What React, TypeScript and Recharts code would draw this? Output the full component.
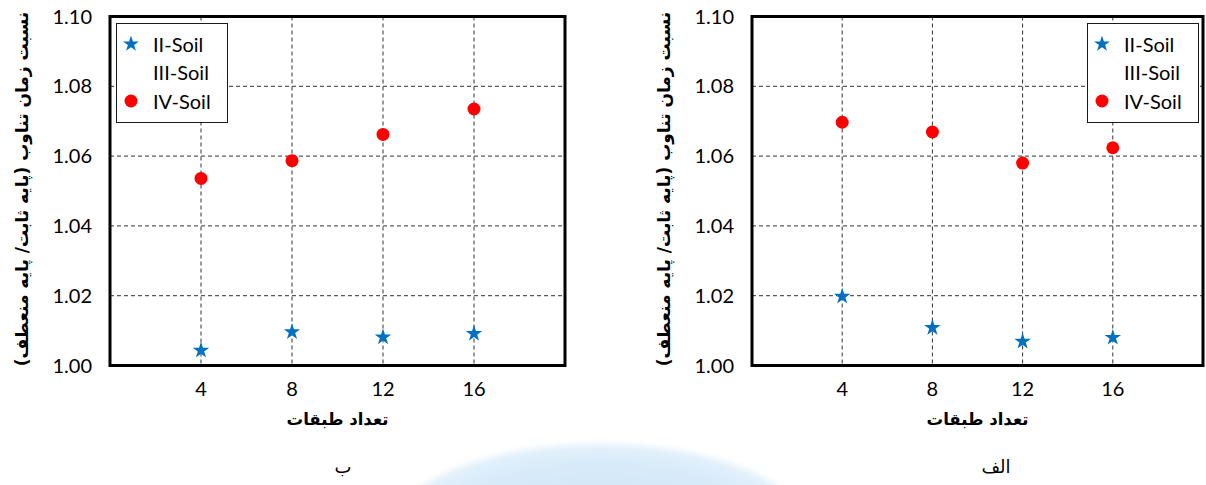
import React from "react";
import {
  CartesianGrid,
  Label,
  Legend,
  ReferenceArea,
  Scatter,
  ScatterChart,
  Symbols,
  XAxis,
  YAxis,
} from "recharts";

// number of storeys on the x axis
const FLOORS = [4, 8, 12, 16];
const Y_TICKS = [1.0, 1.02, 1.04, 1.06, 1.08, 1.1];
const SOIL_NAMES = ["II-Soil", "III-Soil", "IV-Soil"];

// panel الف : period ratio (fixed base / flexible base)
const ALEF_SOIL_II = [1.0198, 1.0108, 1.0069, 1.008];
const ALEF_SOIL_III: number[] = [];
const ALEF_SOIL_IV = [1.0697, 1.0669, 1.058, 1.0624];

// panel ب
const BE_SOIL_II = [1.0043, 1.0096, 1.0081, 1.0091];
const BE_SOIL_III: number[] = [];
const BE_SOIL_IV = [1.0536, 1.0587, 1.0662, 1.0735];

const Y_LABEL = "نسبت زمان تناوب (پایه ثابت/ پایه منعطف)";
const X_LABEL = "تعداد طبقات";

const STAR_BLUE = "#0070C0";
const DOT_RED = "#FF0000";
const LATIN_FONT = "Lato, 'Liberation Sans', sans-serif";
const PERSIAN_FONT = "'DejaVu Sans', 'Noto Sans', sans-serif";

const toPoints = (values: number[]) =>
  values.map((ratio, i) => ({ floors: FLOORS[i], ratio }));

const StarShape = (props: any) => (
  <Symbols cx={props.cx} cy={props.cy} type="star" size={85} fill={STAR_BLUE} />
);

const DotShape = (props: any) => (
  <circle cx={props.cx} cy={props.cy} r={6.5} fill={DOT_RED} />
);

function SoilLegend({ payload }: any) {
  const items = [...(payload ?? [])].sort(
    (a, b) => SOIL_NAMES.indexOf(a.value) - SOIL_NAMES.indexOf(b.value)
  );
  return (
    <div
      style={{
        border: "1.5px solid #1a1a1a",
        background: "#fff",
        boxSizing: "border-box",
        width: 112,
        padding: "6px 0 7px 6px",
        fontFamily: LATIN_FONT,
        fontSize: 20,
        color: "#000",
      }}
    >
      {items.map((item: any) => (
        <div
          key={item.value}
          style={{ display: "flex", alignItems: "center", height: 28.5 }}
        >
          <svg width={16} height={16} style={{ marginRight: 14 }}>
            {item.type === "star" && (
              <Symbols cx={8} cy={8} type="star" size={80} fill={STAR_BLUE} />
            )}
            {item.type === "circle" && item.color !== "none" && (
              <circle cx={8} cy={8} r={6.5} fill={DOT_RED} />
            )}
          </svg>
          <span>{item.value}</span>
        </div>
      ))}
    </div>
  );
}

function YTitle({ viewBox }: any) {
  const x = viewBox.x + 22;
  const y = viewBox.y + viewBox.height / 2 - 2;
  return (
    <text
      x={x}
      y={y}
      transform={`rotate(-90, ${x}, ${y})`}
      textAnchor="middle"
      dominantBaseline="central"
      fontFamily={PERSIAN_FONT}
      fontWeight="bold"
      fontSize={17}
      fill="#000"
    >
      {Y_LABEL}
    </text>
  );
}

function XTitle({ viewBox }: any) {
  return (
    <text
      x={viewBox.x + viewBox.width / 2}
      y={viewBox.y + 59}
      textAnchor="middle"
      fontFamily={PERSIAN_FONT}
      fontWeight="bold"
      fontSize={16.5}
      fill="#000"
    >
      {X_LABEL}
    </text>
  );
}

interface PanelProps {
  left: number;
  width: number;
  rightMargin: number;
  legendLeft: number;
  caption: string;
  captionX: number;
  soilII: number[];
  soilIII: number[];
  soilIV: number[];
}

function Panel({
  left,
  width,
  rightMargin,
  legendLeft,
  caption,
  captionX,
  soilII,
  soilIII,
  soilIV,
}: PanelProps) {
  const tickStyle = { fontFamily: LATIN_FONT, fontSize: 20, fill: "#000" };
  return (
    <div style={{ position: "absolute", left, top: 0, width, height: 485 }}>
      <ScatterChart
        width={width}
        height={485}
        margin={{ top: 16.5, right: rightMargin, bottom: 79.5, left: 0 }}
      >
        <CartesianGrid stroke="#333" strokeDasharray="4 3" />
        <XAxis
          type="number"
          dataKey="floors"
          domain={[0, 20]}
          ticks={FLOORS}
          height={40}
          axisLine={false}
          tickLine={false}
          tickMargin={10}
          tick={tickStyle}
          allowDataOverflow
        >
          <Label content={<XTitle />} />
        </XAxis>
        <YAxis
          type="number"
          dataKey="ratio"
          domain={[1, 1.1]}
          ticks={Y_TICKS}
          width={110}
          axisLine={false}
          tickLine={false}
          tickMargin={12}
          tick={tickStyle}
          tickFormatter={(v: number) => v.toFixed(2)}
          allowDataOverflow
        >
          <Label content={<YTitle />} />
        </YAxis>
        <Legend
          content={<SoilLegend />}
          layout="vertical"
          align="center"
          verticalAlign="middle"
          wrapperStyle={{ left: legendLeft, top: 22.5, width: 112 }}
        />
        <Scatter
          name="II-Soil"
          data={toPoints(soilII)}
          fill={STAR_BLUE}
          legendType="star"
          shape={StarShape}
          isAnimationActive={false}
        />
        <Scatter
          name="III-Soil"
          data={toPoints(soilIII)}
          fill="none"
          legendType="circle"
          isAnimationActive={false}
        />
        <Scatter
          name="IV-Soil"
          data={toPoints(soilIV)}
          fill={DOT_RED}
          legendType="circle"
          shape={DotShape}
          isAnimationActive={false}
        />
        <ReferenceArea
          x1={0}
          x2={20}
          y1={1}
          y2={1.1}
          fill="none"
          stroke="#000"
          strokeWidth={3}
        />
      </ScatterChart>
      <div
        style={{
          position: "absolute",
          left: captionX - left - 40,
          top: 456,
          width: 80,
          textAlign: "center",
          fontFamily: PERSIAN_FONT,
          fontSize: 18,
          color: "#000",
        }}
      >
        {caption}
      </div>
    </div>
  );
}

export default function App() {
  return (
    <div
      style={{
        position: "absolute",
        left: 0,
        top: 0,
        width: 1206,
        height: 485,
        background: "#fff",
        overflow: "hidden",
      }}
    >
      {/* faint blue watermark at the bottom */}
      <div
        style={{
          position: "absolute",
          left: 390,
          top: 444,
          width: 420,
          height: 90,
          borderRadius: "50% 50% 0 0 / 100% 100% 0 0",
          background:
            "radial-gradient(ellipse at 50% 100%, #bcdcf5 0%, #cfe6f8 55%, #eaf4fc 85%, rgba(255,255,255,0) 100%)",
          filter: "blur(3px)",
          opacity: 0.8,
        }}
      />
      <Panel
        left={0}
        width={600}
        rightMargin={35}
        legendLeft={116}
        caption="ب"
        captionX={343}
        soilII={BE_SOIL_II}
        soilIII={BE_SOIL_III}
        soilIV={BE_SOIL_IV}
      />
      <Panel
        left={642}
        width={564}
        rightMargin={3}
        legendLeft={445}
        caption="الف"
        captionX={996}
        soilII={ALEF_SOIL_II}
        soilIII={ALEF_SOIL_III}
        soilIV={ALEF_SOIL_IV}
      />
    </div>
  );
}
